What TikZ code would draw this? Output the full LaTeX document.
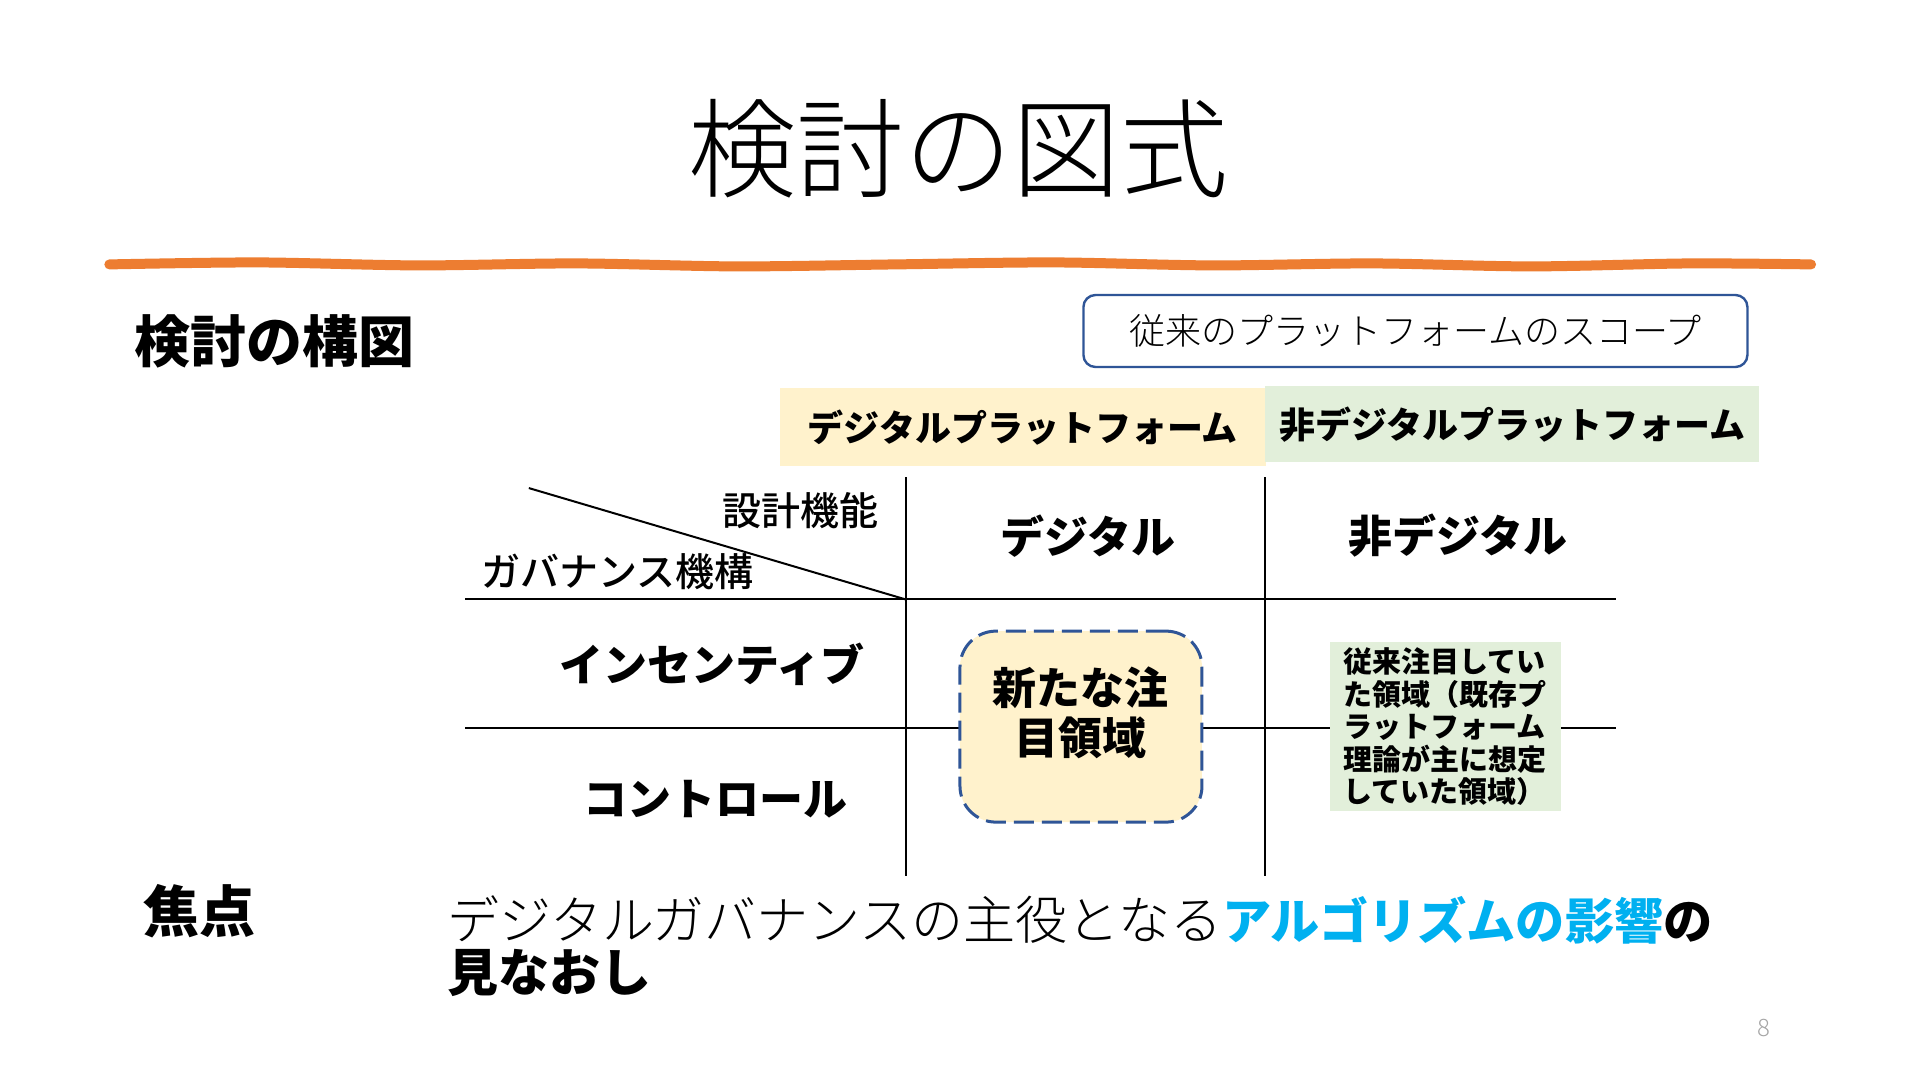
\documentclass[tikz,border=0pt]{standalone}
\usepackage{fontspec}
\setmainfont{Noto Sans CJK JP}
\newfontfamily\jplight{Noto Sans CJK JP Light}
\newfontfamily\jpmedium{Noto Sans CJK JP Medium}
\usetikzlibrary{positioning}

\definecolor{accent}{HTML}{ED7D31}
\definecolor{scopeblue}{HTML}{2F5597}
\definecolor{digyellow}{HTML}{FFF2CC}
\definecolor{nondiggreen}{HTML}{E2EFDA}
\definecolor{algoblue}{HTML}{00B0F0}
\definecolor{pagegray}{HTML}{A6A6A6}

\begin{document}
\begin{tikzpicture}
[x=0.497pt,y=-0.497pt,
 every node/.style={inner sep=0pt,outer sep=0pt},
 ttl/.style={font=\jplight\fontsize{54}{60}\selectfont},
 sec/.style={font=\bfseries\fontsize{28}{32}\selectfont},
 scope/.style={rectangle,rounded corners=6pt,draw=scopeblue,line width=1.2pt,
   minimum width=332pt,minimum height=36pt,font=\jplight\fontsize{18}{22}\selectfont},
 plat/.style={rectangle,font=\bfseries\fontsize{18}{22}\selectfont},
 col/.style={font=\bfseries\fontsize{22}{25}\selectfont},
 axis/.style={font=\jpmedium\fontsize{19.5}{24}\selectfont},
 focus/.style={rectangle,rounded corners=18pt,fill=digyellow,draw=scopeblue,
   line width=1.5pt,dash pattern=on 10pt off 4pt,minimum width=121pt,minimum height=95.5pt},
 note/.style={rectangle,fill=nondiggreen,align=left,inner xsep=7pt,inner ysep=2pt,
   minimum width=115.5pt,minimum height=84.5pt,font=\bfseries\fontsize{14.5}{16.25}\selectfont},
 gridline/.style={line width=1pt}]
\path[fill=white,use as bounding box] (0,0) rectangle (1931.6,1086.5);

% title and rule
\node[ttl] (title) at (964,150) {検討の図式};
\draw[accent,line width=5pt,line cap=round] plot[smooth] coordinates
  {(110,266) (260,264) (420,267) (580,265) (740,268) (900,266) (1060,264)
   (1220,267) (1380,265) (1540,268) (1700,265) (1822,266)};

\node[sec,anchor=west] (kozu) at (135,343) {検討の構図};
\node[scope] (scope) at (1424,333) {従来のプラットフォームのスコープ};

\node[plat,fill=digyellow,minimum width=243pt,minimum height=39pt] (digpf) at (1029,430) {デジタルプラットフォーム};
\node[plat,fill=nondiggreen,minimum width=247pt,minimum height=38pt] (nondigpf) at (1521.5,427) {非デジタルプラットフォーム};

% grid of the table
\coordinate (vAt) at (911,480);
\coordinate (vAb) at (911,881);
\coordinate (vBt) at (1273,480);
\coordinate (vBb) at (1273,881);
\coordinate (h1l) at (468,603);
\coordinate (h1r) at (1626,603);
\coordinate (h2l) at (468,732);
\coordinate (h2r) at (1626,732);
\coordinate (dgs) at (532,491);
\draw[gridline] (vAt) -- (vAb);
\draw[gridline] (vBt) -- (vBb);
\draw[gridline] (h1l) -- (h1r);
\draw[gridline] (h2l) -- (h2r);
\draw[gridline] (dgs) -- (vAb |- h1l);

\node[axis] (sekkei) at (805,514) {設計機能};
\node[axis] (gov)    at (621,575) {ガバナンス機構};
\node[col]  (dig)    at (1095,539) {デジタル};
\node[col]  (nondig) at (1467,539) {非デジタル};
\node[col]  (incent) at (716,668) {インセンティブ};
\node[col]  (ctrl)   at (720,804) {コントロール};

\node[focus] (newarea) at (1087.5,731) {};
\node[col,align=center] (newtxt) at ([yshift=7pt]newarea.center) {新たな注\\目領域};
\node[note] (oldarea) at (1454,731) {従来注目してい\\た領域（既存プ\\ラットフォーム\\理論が主に想定\\していた領域）};

% focus line
\node[sec] (shoten) at (201,917) {焦点};
\node[anchor=west,align=left,font=\bfseries\fontsize{25.5}{26}\selectfont] (focustxt) at (450,952)
  {{\mdseries\jplight\fontsize{26}{26}\selectfont デジタルガバナンスの主役となる}{\fontsize{24.6}{26}\selectfont\textcolor{algoblue}{アルゴリズムの影響}の}\\見なおし};

\node[font=\jplight\fontsize{12}{14}\selectfont,text=pagegray] (pgno) at (1775,1034) {8};
\end{tikzpicture}
\end{document}
